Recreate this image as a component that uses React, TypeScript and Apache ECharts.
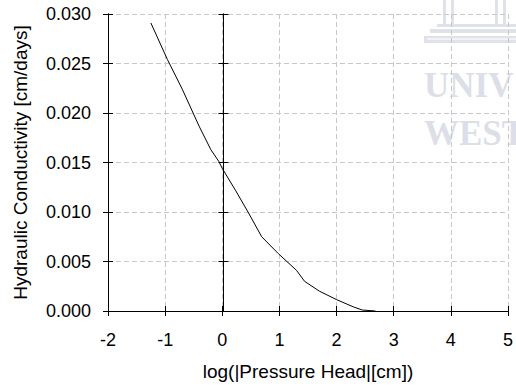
import React, { useEffect, useRef } from "react";
import * as echarts from "echarts";

const xValues = [-1.25, -0.96, -0.7, -0.55, -0.4, -0.2, -0.06, 0.0, 0.23, 0.46, 0.69, 0.98, 1.3, 1.44, 1.7, 2.0, 2.3, 2.45, 2.68];
const yValues = [0.0291, 0.0254, 0.0224, 0.0205, 0.0186, 0.0163, 0.0151, 0.0144, 0.0122, 0.0099, 0.0075, 0.0058, 0.0041, 0.003, 0.002, 0.00115, 0.0004, 0.0001, 0.0];

const xTitle = "log(|Pressure Head|[cm])";
const yTitle = "Hydraulic Conductivity [cm/days]";

const FONT = "'Liberation Sans', Arial, sans-serif";

export default function App() {
  const ref = useRef<HTMLDivElement>(null);
  useEffect(() => {
    if (!ref.current) return;
    const chart = echarts.init(ref.current, null, { renderer: "svg" });
    const data = xValues.map((x, i) => [x, yValues[i]]);
    const lineBlack = { color: "#000", width: 1 };
    const gridDash = { type: [5, 3] as any, color: "#c8c8c8", width: 1 };
    const baseX = { type: "value", min: -2, max: 5, interval: 1, position: "bottom" };
    const baseY = { type: "value", min: 0, max: 0.03, interval: 0.005, position: "left" };
    const wm = "#dcdfe7";
    chart.setOption({
      animation: false,
      backgroundColor: "#fff",
      grid: { left: 108, right: 4, top: 14, bottom: 78 },
      xAxis: [
        {
          ...baseX,
          axisLine: { show: true, onZero: false, lineStyle: lineBlack },
          axisTick: { show: true, length: 5, lineStyle: lineBlack },
          axisLabel: { margin: 20, fontSize: 18, color: "#000", fontFamily: FONT },
          splitLine: { show: true, lineStyle: gridDash },
          name: xTitle,
          nameLocation: "middle",
          nameGap: 51,
          nameTextStyle: { fontSize: 19, color: "#000", fontFamily: FONT },
        },
        {
          ...baseX,
          axisLine: { show: true, onZero: false, lineStyle: lineBlack },
          axisTick: { show: true, inside: true, length: 5, lineStyle: lineBlack },
          axisLabel: { show: false },
          splitLine: { show: false },
        },
      ],
      yAxis: [
        {
          ...baseY,
          axisLine: { show: true, onZero: false, lineStyle: lineBlack },
          axisTick: { show: true, length: 5, lineStyle: lineBlack },
          axisLabel: {
            margin: 17,
            fontSize: 18,
            color: "#000",
            fontFamily: FONT,
            formatter: (v: number) => v.toFixed(3),
          },
          splitLine: { show: true, lineStyle: gridDash },
          name: yTitle,
          nameLocation: "middle",
          nameGap: 78,
          nameTextStyle: { fontSize: 19, color: "#000", fontFamily: FONT },
        },
        {
          ...baseY,
          axisLine: { show: true, onZero: false, lineStyle: lineBlack },
          axisTick: { show: true, inside: true, length: 5, lineStyle: lineBlack },
          axisLabel: { show: false },
          splitLine: { show: false },
        },
        {
          ...baseY,
          offset: -115.4,
          axisLine: { show: true, onZero: false, lineStyle: lineBlack },
          axisTick: { show: true, length: 5, lineStyle: lineBlack },
          axisLabel: { show: false },
          splitLine: { show: false },
        },
        {
          ...baseY,
          offset: -115.4,
          axisLine: { show: true, onZero: false, lineStyle: lineBlack },
          axisTick: { show: true, inside: true, length: 5, lineStyle: lineBlack },
          axisLabel: { show: false },
          splitLine: { show: false },
        },
      ],
      graphic: [
        {
          type: "group",
          z: 1,
          silent: true,
          children: [
            { type: "rect", shape: { x: 423, y: 0, width: 93, height: 144 }, style: { fill: "rgba(255,255,255,0.55)" } },
            { type: "rect", shape: { x: 443, y: 0, width: 3, height: 25 }, style: { fill: "#e0e2ea" } },
            { type: "rect", shape: { x: 451, y: 0, width: 3, height: 25 }, style: { fill: "#e0e2ea" } },
            { type: "rect", shape: { x: 495, y: 0, width: 3, height: 25 }, style: { fill: "#e0e2ea" } },
            { type: "rect", shape: { x: 503, y: 0, width: 3, height: 25 }, style: { fill: "#e0e2ea" } },
            { type: "rect", shape: { x: 437, y: 24, width: 80, height: 3 }, style: { fill: "#e0e2ea" } },
            { type: "rect", shape: { x: 430, y: 29, width: 86, height: 4 }, style: { fill: "#e0e2ea" } },
            { type: "rect", shape: { x: 424, y: 36, width: 92, height: 7 }, style: { fill: "#e0e2ea" } },
            { type: "rect", shape: { x: 427, y: 38, width: 89, height: 2 }, style: { fill: "#f1f2f5" } },
            {
              type: "text",
              x: 424,
              y: 85,
              style: {
                text: "UNIV",
                fill: wm,
                font: "bold 35px 'Liberation Serif', 'Times New Roman', serif",
                textVerticalAlign: "middle",
              },
            },
            {
              type: "text",
              x: 424,
              y: 133,
              style: {
                text: "WEST",
                fill: wm,
                font: "bold 35px 'Liberation Serif', 'Times New Roman', serif",
                textVerticalAlign: "middle",
              },
            },
          ],
        },
      ],
      series: [
        {
          type: "line",
          xAxisIndex: 0,
          yAxisIndex: 0,
          data,
          showSymbol: false,
          symbol: "none",
          lineStyle: lineBlack,
          z: 5,
        },
      ],
    });
    return () => chart.dispose();
  }, []);
  return (
    <div
      ref={ref}
      style={{ position: "fixed", left: 0, top: 0, width: 516, height: 389 }}
    />
  );
}
